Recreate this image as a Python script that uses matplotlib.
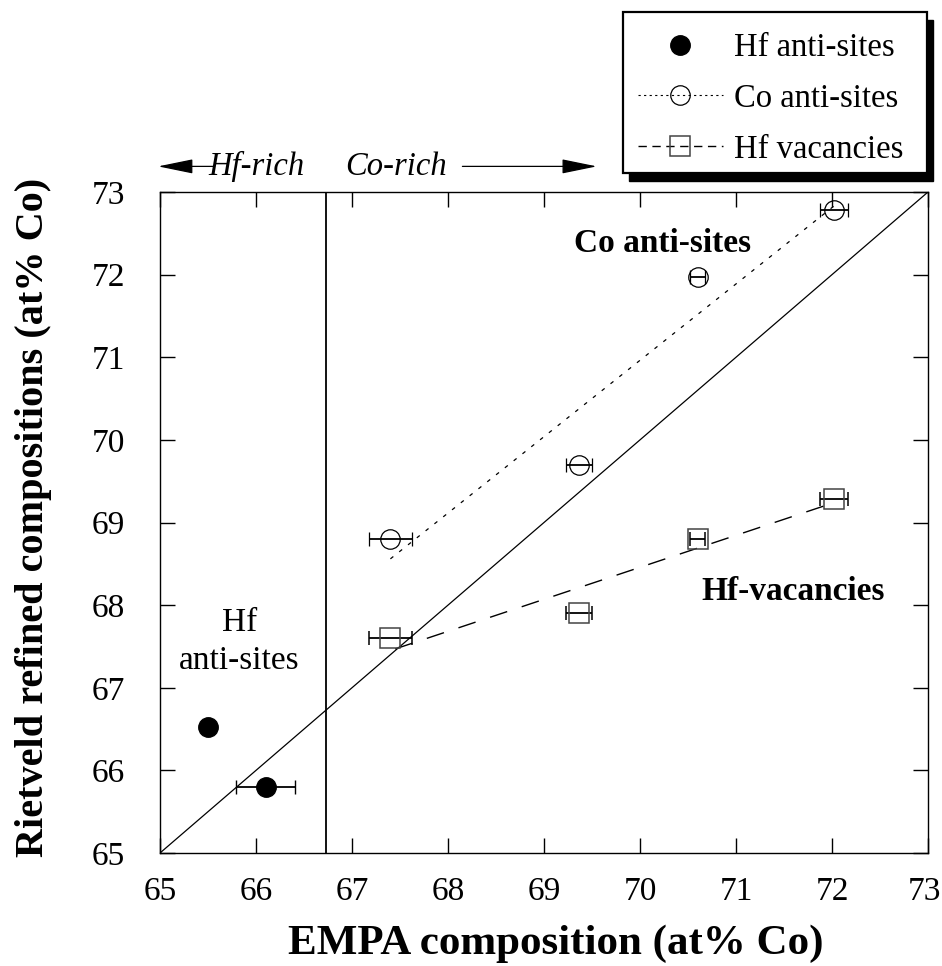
import matplotlib
matplotlib.use("Agg")
import matplotlib.pyplot as plt
from matplotlib.lines import Line2D
from matplotlib.patches import Rectangle
from matplotlib.transforms import ScaledTranslation

plt.rcParams['font.family'] = ['Liberation Serif', 'DejaVu Serif']

# Data
hf_anti_x = [65.5, 66.1]
hf_anti_y = [66.52, 65.8]
hf_anti_xerr = [0.0, 0.31]

co_anti_x = [67.4, 69.36, 70.6, 72.02]
co_anti_y = [68.8, 69.7, 71.97, 72.78]
co_anti_xerr = [0.22, 0.135, 0.08, 0.15]

hf_vac_x = [67.4, 69.36, 70.6, 72.02]
hf_vac_y = [67.6, 67.9, 68.8, 69.29]
hf_vac_xerr = [0.22, 0.135, 0.08, 0.15]

co_fit_x = [67.4, 72.02]
co_fit_y = [68.56, 72.83]
vac_fit_x = [67.45, 72.02]
vac_fit_y = [67.47, 69.24]

boundary_x = 66.73
ticks = [65, 66, 67, 68, 69, 70, 71, 72, 73]
legend_labels = ['Hf anti-sites', 'Co anti-sites', 'Hf vacancies']

W, H = 942, 966
fig = plt.figure(figsize=(W/100, H/100), dpi=100)
ax = fig.add_axes([160/W, 1-853/H, 768/W, 661/H])

ax.set_xlim(65, 73)
ax.set_ylim(65, 73)

# identity line
ax.plot([65, 73], [65, 73], color='black', lw=0.9, zorder=2)
# boundary line
ax.axvline(boundary_x, color='black', lw=1.3, zorder=2)

# fits
ax.plot(co_fit_x, co_fit_y, color='black', lw=0.9, linestyle=(0, (3, 6)), zorder=2)
ax.plot(vac_fit_x, vac_fit_y, color='black', lw=1.0, linestyle=(0, (13, 11)), zorder=2)

# points
ax.errorbar(hf_anti_x, hf_anti_y, xerr=hf_anti_xerr, fmt='o', ms=14, mfc='black',
            mec='black', ecolor='black', elinewidth=1.3, capsize=5, capthick=1.0, zorder=3)
ax.errorbar(co_anti_x, co_anti_y, xerr=co_anti_xerr, fmt='o', ms=14, mfc='none',
            mec='black', mew=0.9, ecolor='black', elinewidth=1.3, capsize=5, capthick=1.0, zorder=3)
ax.errorbar(hf_vac_x, hf_vac_y, xerr=hf_vac_xerr, fmt='s', ms=14, mfc='none',
            mec='#444444', mew=1.1, ecolor='black', elinewidth=1.3, capsize=5, capthick=1.0, zorder=3)

ax.set_xticks(ticks)
ax.set_yticks(ticks)
ax.tick_params(direction='in', length=11, width=1.0, top=True, right=True,
               labelsize=24, colors='black')
ax.tick_params(axis='x', pad=17)
ax.tick_params(axis='y', pad=25)
for s in ax.spines.values():
    s.set_linewidth(1.0)

# nudge the last x tick label so it stays inside the figure
last_lab = ax.xaxis.get_major_ticks()[-1].label1
last_lab.set_transform(last_lab.get_transform() + ScaledTranslation(-4/100, 0, fig.dpi_scale_trans))

# axis labels (placed in figure pixels)
fig.text(556/W, 1-954/H, 'EMPA composition (at% Co)', fontsize=31, fontweight='bold',
         ha='center', va='baseline')
fig.text(43/W, 1-517/H, 'Rietveld refined compositions (at% Co)', fontsize=29,
         fontweight='bold', ha='center', va='baseline', rotation=90, rotation_mode='anchor')

# annotations
ax.text(70.23, 72.38, 'Co anti-sites', fontsize=24, fontweight='bold', ha='center', va='center')
ax.text(71.59, 68.16, 'Hf-vacancies', fontsize=24, fontweight='bold', ha='center', va='center')
ax.text(65.83, 67.56, 'Hf\nanti-sites', fontsize=24, ha='center', va='center', linespacing=1.3)

# Hf-rich / Co-rich arrows above the axes
ax.text(66.01, 73.31, 'Hf-rich', fontsize=23.5, style='italic', ha='center', va='center', clip_on=False)
ax.text(67.46, 73.31, 'Co-rich', fontsize=23.5, style='italic', ha='center', va='center', clip_on=False)
astyle = '-|>,head_length=2.2,head_width=0.45'
ax.annotate('', xy=(64.98, 73.31), xytext=(65.55, 73.31), annotation_clip=False,
            arrowprops=dict(arrowstyle=astyle, color='black', lw=0.9, shrinkA=0, shrinkB=0))
ax.annotate('', xy=(69.55, 73.31), xytext=(68.15, 73.31), annotation_clip=False,
            arrowprops=dict(arrowstyle=astyle, color='black', lw=0.9, shrinkA=0, shrinkB=0))

# legend
handles = [
    Line2D([], [], marker='o', ms=14, mfc='black', mec='black', linestyle='none'),
    Line2D([], [], marker='o', ms=14, mfc='none', mec='black', mew=0.9, color='black',
           lw=0.8, linestyle=(0, (2, 3))),
    Line2D([], [], marker='s', ms=14, mfc='none', mec='#444444', mew=1.1, color='black',
           lw=1.0, linestyle=(0, (6, 4))),
]
leg = fig.legend(handles, legend_labels, loc='upper left', bbox_to_anchor=(623/W, 1-18/H),
                 bbox_transform=fig.transFigure, fontsize=23.5, frameon=False,
                 handlelength=2.6, handletextpad=0.35, borderpad=0.45, labelspacing=0.62,
                 borderaxespad=0)
leg.set_zorder(6)

# legend frame and black drop shadow (figure pixels)
fx0, fy0, fx1, fy1 = 623, 12, 927, 173
shadow = Rectangle(((fx0 + 6)/W, 1-(fy1 + 8)/H), (fx1-fx0)/W, (fy1-fy0)/H,
                   transform=fig.transFigure, facecolor='black', edgecolor='black', zorder=4.8)
frame = Rectangle((fx0/W, 1-fy1/H), (fx1-fx0)/W, (fy1-fy0)/H,
                  transform=fig.transFigure, facecolor='white', edgecolor='black',
                  lw=1.6, zorder=4.9)
fig.add_artist(shadow)
fig.add_artist(frame)

fig.savefig('out.png', dpi=100)
